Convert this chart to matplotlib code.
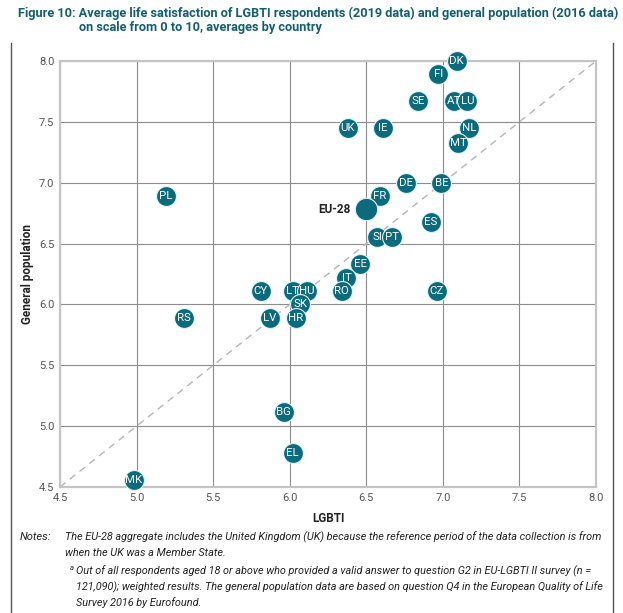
import matplotlib
matplotlib.use('Agg')
import matplotlib.pyplot as plt
from matplotlib import font_manager
from matplotlib.lines import Line2D

countries = ['DK', 'FI', 'SE', 'AT', 'LU', 'UK', 'IE', 'NL', 'MT', 'DE', 'BE', 'FR', 'PL', 'ES',
             'SI', 'PT', 'EE', 'IT', 'RO', 'CY', 'LT', 'HU', 'CZ', 'SK', 'RS', 'LV', 'HR',
             'BG', 'EL', 'MK']
lgbti = [7.09, 6.97, 6.84, 7.07, 7.16, 6.38, 6.61, 7.17, 7.10, 6.76, 6.99, 6.59, 5.19, 6.92,
         6.57, 6.67, 6.46, 6.37, 6.34, 5.81, 6.02, 6.11, 6.96, 6.07, 5.31, 5.87, 6.04,
         5.96, 6.02, 4.98]
general_pop = [8.00, 7.89, 7.67, 7.67, 7.67, 7.45, 7.45, 7.45, 7.33, 7.00, 7.00, 6.89, 6.89, 6.68,
               6.55, 6.55, 6.33, 6.22, 6.11, 6.11, 6.11, 6.11, 6.11, 6.00, 5.89, 5.89, 5.89,
               5.12, 4.78, 4.56]
eu_label = 'EU-28'
eu_lgbti = 6.50
eu_general = 6.78
ticks = [4.5, 5.0, 5.5, 6.0, 6.5, 7.0, 7.5, 8.0]

fig_label = 'Figure 10: '
title_lines = ['Average life satisfaction of LGBTI respondents (2019 data) and general population (2016 data)',
               'on scale from 0 to 10, averages by country']
notes = ['The EU-28 aggregate includes the United Kingdom (UK) because the reference period of the data collection is from',
         'when the UK was a Member State.']
footnote = ['Out of all respondents aged 18 or above who provided a valid answer to question G2 in EU-LGBTI II survey (n =',
            '121,090); weighted results. The general population data are based on question Q4 in the European Quality of Life',
            'Survey 2016 by Eurofound.']

names = {f.name for f in font_manager.fontManager.ttflist}
FONT = 'Liberation Sans Narrow' if 'Liberation Sans Narrow' in names else 'Roboto'
plt.rcParams['font.family'] = [FONT, 'DejaVu Sans']

teal = '#0b6b7c'
title_col = '#135f6e'
W, H = 623, 613

fig = plt.figure(figsize=(W / 100, H / 100), dpi=100)
ax = fig.add_axes([60 / W, 1 - 487 / H, (596 - 60) / W, (487 - 61) / H])

# frame lines left/right of figure
fig.add_artist(Line2D([11 / W, 11 / W], [0, 1 - 43 / H], color='#555555', lw=1.0))
fig.add_artist(Line2D([613 / W, 613 / W], [0, 1 - 43 / H], color='#555555', lw=1.0))

ax.set_xlim(4.5, 8.0)
ax.set_ylim(4.5, 8.0)
ax.set_xticks(ticks)
ax.set_yticks(ticks)
ax.set_xticklabels([f'{t:.1f}' for t in ticks])
ax.set_yticklabels([f'{t:.1f}' for t in ticks])
ax.tick_params(length=0, labelsize=8, colors='#555555', pad=4)
ax.grid(True, color='#8c8c8c', lw=0.8)
ax.set_axisbelow(True)
for s in ax.spines.values():
    s.set_color('#c4c4c4')
    s.set_linewidth(1.6)

ax.plot([4.5, 8.0], [4.5, 8.0], ls=(0, (5, 4)), color='#b5b5b5', lw=1.0, zorder=1)

ax.scatter(lgbti, general_pop, s=205, color=teal, edgecolors='#dff4f6', linewidths=0.8,
           zorder=3, clip_on=False)
ax.scatter([eu_lgbti], [eu_general], s=260, color=teal, edgecolors='#dff4f6', linewidths=0.8,
           zorder=3)
for c, x, y in zip(countries, lgbti, general_pop):
    ax.text(x, y, c, color='white', fontsize=8.2, ha='center', va='center', zorder=5)
ax.annotate(eu_label, (eu_lgbti, eu_general), xytext=(-11, 0), textcoords='offset points',
            ha='right', va='center', fontsize=8.5, fontweight='bold', color='#222222')

ax.set_xlabel('LGBTI', fontsize=8.5, fontweight='bold', color='#222222', labelpad=7)
ax.set_ylabel('General population', fontsize=8.5, fontweight='bold', color='#222222', labelpad=4)

renderer = fig.canvas.get_renderer()


def put(x, y, s, width=None, size=9, **kw):
    t = fig.text(x / W, 1 - y / H, s, fontsize=size, va='center', ha='left', **kw)
    if width:
        w = t.get_window_extent(renderer).width
        t.set_fontsize(size * width / w)
    return t


tkw = dict(fontweight='bold', color=title_col)
full = put(18, 13, fig_label + title_lines[0], width=617 - 18, size=8.6, **tkw)
tfs = full.get_fontsize()
probe = fig.text(0, 0, fig_label + 'A', fontsize=tfs, **tkw)
pw = probe.get_window_extent(renderer).width - \
    fig.text(0, 0, 'A', fontsize=tfs, **tkw).get_window_extent(renderer).width
for t in fig.texts[-2:]:
    t.remove()
put(18 + pw, 28, title_lines[1], size=tfs, **tkw)

put(20, 537, 'Notes:', size=8, style='italic', color='#222222')
n1 = put(65, 537, notes[0], width=604 - 65, size=8, style='italic', color='#222222')
fs = n1.get_fontsize()
put(65, 553, notes[1], size=fs, style='italic', color='#222222')
put(70, 568, 'a', size=fs * 0.7, style='italic', color='#222222')
for i, line in enumerate(footnote):
    put(76, 571 + 16 * i, line, size=fs, style='italic', color='#222222')

fig.savefig('out.png', dpi=100)
